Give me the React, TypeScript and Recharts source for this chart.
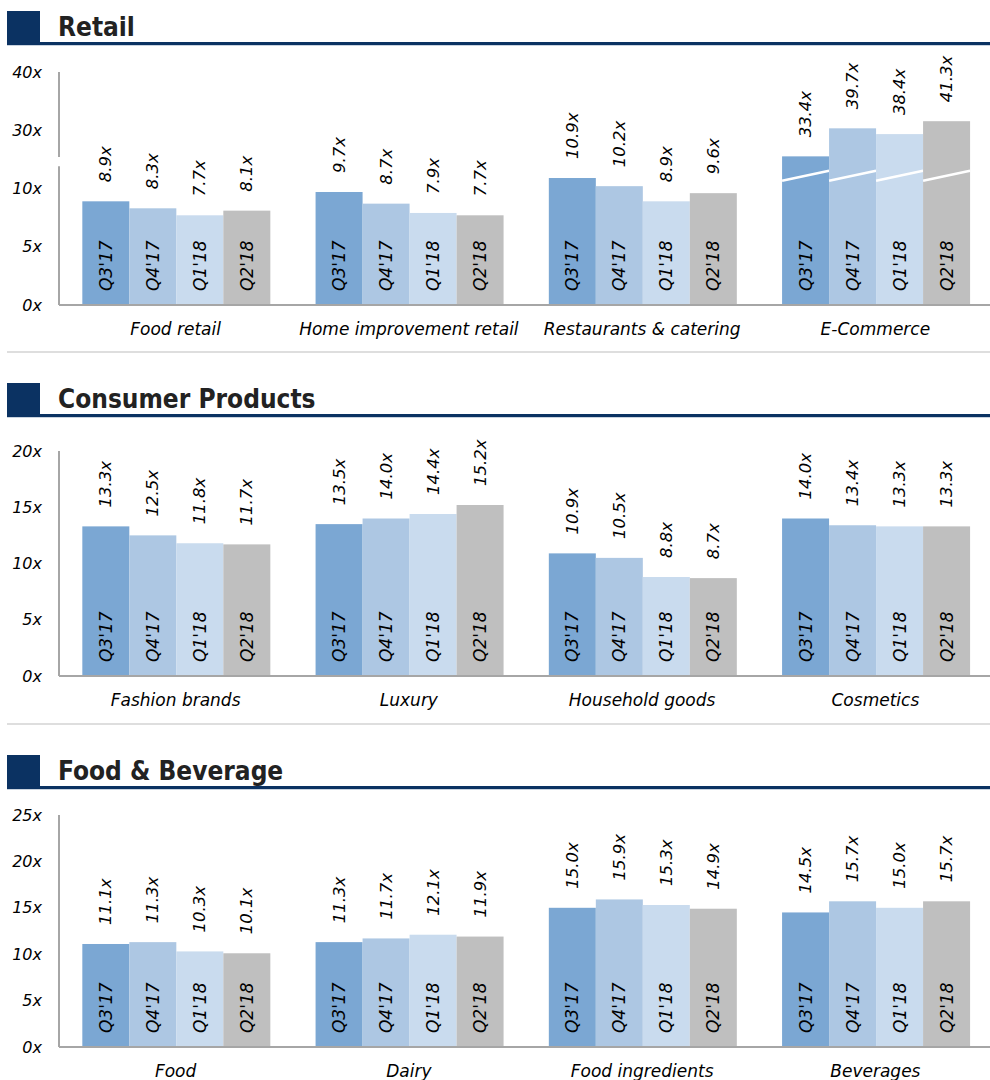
import React from 'react';
import { BarChart, Bar, XAxis, YAxis, LabelList, ReferenceLine } from 'recharts';

// ---------- data ----------
const quarterLabels = ["Q3'17", "Q4'17", "Q1'18", "Q2'18"];
const seriesKeys = ['q3_17', 'q4_17', 'q1_18', 'q2_18'];
const seriesColors = ['#7BA7D3', '#ADC7E3', '#C9DBEE', '#BFBFBF'];

const retailCategories = ['Food retail', 'Home improvement retail', 'Restaurants & catering', 'E-Commerce'];
const retailQ3_17 = [8.9, 9.7, 10.9, 33.4];
const retailQ4_17 = [8.3, 8.7, 10.2, 39.7];
const retailQ1_18 = [7.7, 7.9, 8.9, 38.4];
const retailQ2_18 = [8.1, 7.7, 9.6, 41.3];
const retailTicks = [0, 5, 10, 15, 20];
const retailTickLabels = ['0x', '5x', '10x', '30x', '40x'];

const consumerCategories = ['Fashion brands', 'Luxury', 'Household goods', 'Cosmetics'];
const consumerQ3_17 = [13.3, 13.5, 10.9, 14.0];
const consumerQ4_17 = [12.5, 14.0, 10.5, 13.4];
const consumerQ1_18 = [11.8, 14.4, 8.8, 13.3];
const consumerQ2_18 = [11.7, 15.2, 8.7, 13.3];
const consumerTicks = [0, 5, 10, 15, 20];
const consumerTickLabels = ['0x', '5x', '10x', '15x', '20x'];

const foodCategories = ['Food', 'Dairy', 'Food ingredients', 'Beverages'];
const foodQ3_17 = [11.1, 11.3, 15.0, 14.5];
const foodQ4_17 = [11.3, 11.7, 15.9, 15.7];
const foodQ1_18 = [10.3, 12.1, 15.3, 15.0];
const foodQ2_18 = [10.1, 11.9, 14.9, 15.7];
const foodTicks = [0, 5, 10, 15, 20, 25];
const foodTickLabels = ['0x', '5x', '10x', '15x', '20x', '25x'];

// broken-axis handling (Retail, E-Commerce)
const BREAK_THRESHOLD = 20;
const BREAK_SCALE = 0.382;
const BAR_BREAK_AT = 11.1;
const AXIS_GAP = [11.9, 12.7];
const toDisplay = (v: number) => (v > BREAK_THRESHOLD ? v * BREAK_SCALE : v);

// ---------- styles ----------
const NAVY = '#0B3262';
const AXIS = '#A6A6A6';
const FONT = "'DejaVu Sans', Verdana, sans-serif";
const TITLE_FONT = "'DejaVu Sans Condensed', 'DejaVu Sans', sans-serif";

function buildRows(categories: string[], series: number[][]) {
  return categories.map((name, i) => {
    const row: any = { name };
    seriesKeys.forEach((k, s) => {
      row[k] = series[s][i];
      row[k + '_d'] = toDisplay(series[s][i]);
      row[k + '_broken'] = series[s][i] > BREAK_THRESHOLD;
    });
    return row;
  });
}

const panels = [
  {
    title: 'Retail',
    categories: retailCategories,
    series: [retailQ3_17, retailQ4_17, retailQ1_18, retailQ2_18],
    ticks: retailTicks,
    tickLabels: retailTickLabels,
    headerTop: 11,
    plotTop: 72,
    plotBottom: 305,
    broken: true,
  },
  {
    title: 'Consumer Products',
    categories: consumerCategories,
    series: [consumerQ3_17, consumerQ4_17, consumerQ1_18, consumerQ2_18],
    ticks: consumerTicks,
    tickLabels: consumerTickLabels,
    headerTop: 383,
    plotTop: 451,
    plotBottom: 676,
    broken: false,
  },
  {
    title: 'Food & Beverage',
    categories: foodCategories,
    series: [foodQ3_17, foodQ4_17, foodQ1_18, foodQ2_18],
    ticks: foodTicks,
    tickLabels: foodTickLabels,
    headerTop: 755,
    plotTop: 815,
    plotBottom: 1047,
    broken: false,
  },
];

const separators = [351, 723];

function Header({ top, title }: { top: number; title: string }) {
  return (
    <>
      <div style={{ position: 'absolute', left: 7, top, width: 33, height: 34, background: NAVY }} />
      <div style={{ position: 'absolute', left: 40, top: top + 31, width: 950, height: 3, background: NAVY }} />
      <div style={{ position: 'absolute', left: 7, top: top + 34, width: 983, height: 1, background: '#C9D3DF' }} />
      <div
        style={{
          position: 'absolute',
          left: 58,
          top: top + 3,
          fontFamily: TITLE_FONT,
          fontWeight: 'bold',
          fontSize: 26,
          lineHeight: '26px',
          color: '#222',
          whiteSpace: 'nowrap',
        }}
      >
        {title}
      </div>
    </>
  );
}

const YTick = (labels: string[], ticks: number[]) => (props: any) => {
  const { y, payload } = props;
  const idx = ticks.indexOf(payload.value);
  return (
    <text x={42} y={y} textAnchor="end" dominantBaseline="central" fontFamily={FONT} fontStyle="italic" fontSize={16} fill="#000">
      {labels[idx]}
    </text>
  );
};

const XTick = (props: any) => {
  const { x, y, payload } = props;
  return (
    <text x={x} y={y + 24} textAnchor="middle" dominantBaseline="central" fontFamily={FONT} fontStyle="italic" fontSize={17} fill="#000">
      {payload.value}
    </text>
  );
};

const makeShape = (key: string) => (props: any) => {
  const { x, y, width, height, fill, payload } = props;
  const els = [<rect key="r" x={x} y={y} width={width} height={height} fill={fill} />];
  if (payload && payload[key + '_broken'] && height > 0) {
    const base = y + height;
    const per = height / payload[key + '_d'];
    const yb = base - BAR_BREAK_AT * per;
    els.push(<line key="l" x1={x} y1={yb + 5} x2={x + width} y2={yb - 5} stroke="#fff" strokeWidth={2.5} />);
  }
  return <g>{els}</g>;
};

const valueLabel = (props: any) => {
  const { x, y, width, value } = props;
  const cx = x + width / 2;
  const ty = y - 19;
  return (
    <text
      x={cx}
      y={ty}
      transform={`rotate(-90, ${cx}, ${ty})`}
      textAnchor="start"
      dominantBaseline="central"
      fontFamily={FONT}
      fontStyle="italic"
      fontSize={16.5}
      fill="#000"
    >
      {`${Number(value).toFixed(1)}x`}
    </text>
  );
};

const quarterLabel = (text: string) => (props: any) => {
  const { x, y, width, height } = props;
  const cx = x + width / 2;
  const ty = y + height - 14;
  return (
    <text
      x={cx}
      y={ty}
      transform={`rotate(-90, ${cx}, ${ty})`}
      textAnchor="start"
      dominantBaseline="central"
      fontFamily={FONT}
      fontStyle="italic"
      fontSize={17}
      fill="#000"
    >
      {text}
    </text>
  );
};

function Panel({ p }: { p: (typeof panels)[number] }) {
  const data = buildRows(p.categories, p.series);
  const marginTop = 40;
  const xAxisH = 45;
  const plotH = p.plotBottom - p.plotTop;
  const chartH = marginTop + plotH + xAxisH;
  const yMax = p.ticks[p.ticks.length - 1];
  return (
    <div style={{ position: 'absolute', left: 0, top: p.plotTop - marginTop }}>
      <BarChart
        width={992}
        height={chartH}
        data={data}
        margin={{ top: marginTop, right: 0, left: 0, bottom: 0 }}
        barCategoryGap="10%"
        barGap={0}
      >
        <XAxis
          dataKey="name"
          axisLine={{ stroke: AXIS, strokeWidth: 2 }}
          tickLine={false}
          tickSize={0}
          tickMargin={0}
          height={xAxisH}
          interval={0}
          tick={XTick}
        />
        <YAxis
          type="number"
          domain={[0, yMax]}
          ticks={p.ticks}
          width={59}
          axisLine={p.broken ? false : { stroke: AXIS, strokeWidth: 2 }}
          tickLine={false}
          tick={YTick(p.tickLabels, p.ticks)}
          interval={0}
        />
        {p.broken && (
          <ReferenceLine
            segment={[
              { x: p.categories[0], y: 0 },
              { x: p.categories[0], y: AXIS_GAP[0] },
            ]}
            position="start"
            stroke={AXIS}
            strokeWidth={2}
            ifOverflow="visible"
          />
        )}
        {p.broken && (
          <ReferenceLine
            segment={[
              { x: p.categories[0], y: AXIS_GAP[1] },
              { x: p.categories[0], y: yMax },
            ]}
            position="start"
            stroke={AXIS}
            strokeWidth={2}
            ifOverflow="visible"
          />
        )}
        {seriesKeys.map((k, i) => (
          <Bar key={k} dataKey={k + '_d'} fill={seriesColors[i]} isAnimationActive={false} shape={makeShape(k)}>
            <LabelList dataKey={k} content={valueLabel} />
            <LabelList dataKey={k} content={quarterLabel(quarterLabels[i])} />
          </Bar>
        ))}
      </BarChart>
    </div>
  );
}

export default function App() {
  return (
    <div style={{ position: 'absolute', left: 0, top: 0, width: 990, height: 1080, overflow: 'hidden', background: '#fff' }}>
      {panels.map((p) => (
        <React.Fragment key={p.title}>
          <Header top={p.headerTop} title={p.title} />
          <Panel p={p} />
        </React.Fragment>
      ))}
      {separators.map((s) => (
        <div key={s} style={{ position: 'absolute', left: 7, top: s, width: 983, height: 2, background: '#DEDEDE' }} />
      ))}
    </div>
  );
}
